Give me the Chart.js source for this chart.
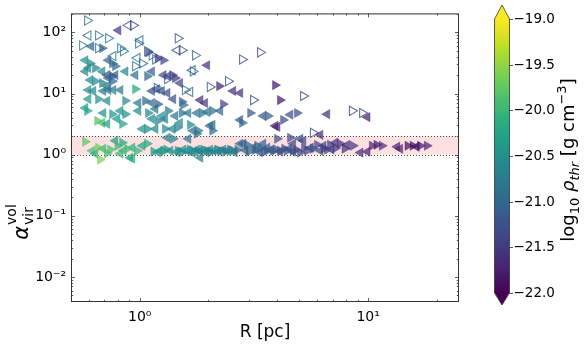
<!DOCTYPE html>
<html><head><meta charset="utf-8">
<script src="https://cdn.jsdelivr.net/npm/chart.js@4/dist/chart.umd.min.js"></script>
<style>html,body{margin:0;padding:0;background:#fff}#wrap{width:586px;height:346px;position:relative}</style>
</head><body><div id="wrap"><canvas id="c" width="586" height="346"></canvas></div>
<script>
// Each entry: [R (pc), alpha_vir^vol, log10 rho_thr]
const filledRight = [
[0.685,55,-21.0],[1.20,38,-21.5],[1.27,35,-21.4],[1.089,47,-21.3],[2.23,13.2,-21.7],[3.92,13.7,-21.8],[4.12,7.8,-21.8],
[1.39,20,-21.4],[1.43,17.9,-21.5],[0.607,31,-20.6],[0.638,26,-20.7],[0.758,31,-21.0],[0.781,28,-21.0],[0.758,19.2,-21.2],
[1.079,19.2,-21.0],[0.638,15.9,-20.6],[0.956,11.8,-20.2],[0.685,14.8,-20.7],[0.758,15.9,-21.0],[0.658,8.1,-20.5],
[0.865,7.6,-20.6],[1.057,7.6,-21.0],[1.20,6.7,-21.1],[1.53,7.3,-21.2],[0.589,5.2,-20.2],[0.758,4.6,-20.4],[0.865,4.6,-20.5],
[1.089,4.8,-20.6],[1.33,5.2,-20.8],[1.53,4.8,-20.9],[0.652,3.57,-19.8],[0.839,3.19,-20.3],[1.079,2.64,-20.5],[1.29,2.64,-20.6],
[1.46,2.75,-20.7],[1.20,3.57,-20.7],[1.55,6.5,-20.9],[1.88,4.8,-20.8],[2.08,5.2,-20.9],[2.32,6.7,-21.4],[3.05,4.8,-21.2],
[3.65,4.3,-21.1],[1.66,3.07,-20.6],[2.81,3.31,-21.0],[4.25,3.70,-21.3],[4.89,4.8,-21.3],[1.80,2.46,-20.9],[2.08,2.46,-21.0],
[0.577,1.63,-19.8],[0.658,1.30,-19.7],[0.743,1.21,-19.9],[0.671,0.83,-19.6],[0.839,1.57,-20.2],[0.882,1.25,-19.9],
[0.975,1.16,-20.0],[1.079,1.51,-20.2],[1.27,1.16,-20.4],[1.47,1.16,-20.5],[1.71,1.16,-20.6],[1.97,1.16,-20.6],[2.25,1.16,-20.7],
[2.56,1.16,-20.7],[1.40,1.82,-20.7],[1.78,2.20,-20.8],[2.95,1.45,-21.0],[3.37,1.25,-21.0],[3.83,1.16,-21.1],[4.41,1.16,-21.2],
[5.04,1.08,-21.3],[4.56,1.89,-21.3],[4.00,1.82,-21.2],[5.98,1.45,-21.4],[6.82,1.45,-21.5],[7.54,1.51,-21.6],[8.60,1.40,-21.5],
[10.4,1.40,-21.7],[10.9,1.45,-21.8],[11.5,1.40,-21.6],[14.9,1.40,-21.9],[15.7,1.40,-21.9],[16.9,1.40,-21.8],[18.1,1.40,-21.7],
[5.74,1.25,-21.2],[6.61,1.21,-21.3],[1.66,1.21,-20.5],[1.90,1.21,-20.6],[2.19,1.21,-20.6],[2.49,1.21,-20.7],[3.27,1.40,-21.0],
[3.61,1.16,-21.1],[4.12,1.16,-21.2],[4.69,1.16,-21.2],[5.41,1.16,-21.3],
[1.15,1.12,-20.4],[1.31,1.21,-20.5],[1.53,1.10,-20.6],[1.80,1.14,-20.7],[2.05,1.10,-20.7],[2.37,1.12,-20.8],[2.68,1.20,-20.9],
[3.00,1.12,-21.0],[3.20,1.20,-21.1],[3.50,1.12,-21.2],[3.95,1.22,-21.2],[4.30,1.25,-21.3],[4.85,1.20,-21.3],[5.25,1.28,-21.4],
[6.40,1.25,-21.5],[7.20,1.28,-21.5],[7.90,1.25,-21.6],[0.80,1.40,-20.0],[0.72,1.05,-19.9]
];
const filledLeft = [
[0.805,108,-21.5],[0.613,59,-21.0],[1.97,29,-21.6],[0.577,35,-20.5],[0.595,26,-20.5],[0.577,23,-20.6],[0.685,23,-20.6],
[0.728,35,-21.0],[0.720,20,-21.1],[0.781,20,-21.0],[0.865,23,-20.6],[0.956,20,-20.9],[1.13,23,-21.1],[1.27,20,-21.3],
[0.607,16.6,-20.6],[0.728,17.9,-21.0],[0.720,13.2,-20.8],[0.595,11.4,-20.5],[0.625,11.0,-20.6],[0.692,11.0,-20.7],
[0.728,11.4,-20.9],[0.765,11.4,-20.8],[0.822,11.4,-20.7],[1.13,11.0,-21.2],[1.19,11.8,-21.3],[1.25,11.0,-21.2],[1.32,10.2,-21.3],
[0.595,8.1,-20.4],[0.720,7.6,-20.6],[0.985,7.0,-20.8],[1.13,7.0,-21.0],[1.40,8.1,-21.3],[0.577,5.8,-20.3],[0.692,4.8,-20.5],
[0.822,5.2,-20.4],[0.985,5.2,-20.6],[1.17,5.6,-20.7],[1.25,4.3,-20.5],[1.43,4.3,-20.8],[0.685,3.31,-19.9],[0.720,3.19,-20.3],
[0.797,3.85,-20.4],[1.025,2.64,-20.5],[1.17,2.64,-20.6],[1.39,2.64,-20.6],[1.13,3.85,-20.6],[1.29,3.85,-20.7],[1.84,7.8,-21.6],
[1.93,7.0,-21.5],[2.56,11.0,-21.6],[2.75,10.2,-21.6],[1.50,14.8,-21.4],[1.33,19.2,-21.4],[1.63,4.8,-20.8],[1.78,4.8,-20.9],
[1.97,5.0,-20.8],[2.25,5.2,-21.0],[3.47,4.3,-21.2],[1.50,3.31,-20.6],[2.75,3.70,-21.1],[3.92,2.96,-21.7],[4.56,4.5,-21.3],
[6.61,4.6,-21.6],[9.92,4.1,-21.7],[1.71,2.46,-21.0],[6.17,2.11,-21.6],[2.08,3.07,-20.9],[4.00,2.85,-21.7],
[0.619,1.16,-19.9],[0.692,1.25,-20.0],[0.638,1.04,-20.1],[0.781,1.69,-20.3],[0.822,1.04,-20.0],[0.927,1.30,-20.1],
[1.025,1.40,-20.3],[0.909,0.89,-20.2],[1.23,1.16,-20.3],[1.36,1.16,-20.5],[1.61,1.16,-20.5],[1.84,1.16,-20.6],[2.10,1.16,-20.6],
[2.41,1.16,-20.7],[1.32,1.89,-20.7],[1.63,1.82,-20.8],[2.03,2.96,-20.9],[2.75,1.51,-21.0],[3.14,1.30,-21.1],[3.61,1.30,-21.1],
[4.12,1.12,-21.2],[4.69,1.12,-21.2],[5.04,1.82,-21.3],[4.69,1.51,-21.4],[6.37,1.40,-21.4],[7.18,1.57,-21.5],[8.10,1.45,-21.6],
[9.24,1.08,-21.6],[9.92,1.12,-21.7],[13.4,1.35,-21.7],[13.8,1.25,-21.7],[16.3,1.35,-21.9],[6.17,1.16,-21.3],[1.55,1.21,-20.5],
[1.78,1.21,-20.5],[2.03,1.21,-20.6],[2.32,1.21,-20.7],[2.84,1.51,-21.0],[3.47,1.51,-21.1],[5.20,1.69,-21.3],[1.84,0.89,-20.7],
[0.927,0.86,-20.1],
[1.20,1.10,-20.4],[1.45,1.12,-20.5],[1.70,1.08,-20.6],[1.95,1.12,-20.7],[2.22,1.14,-20.8],[2.60,1.10,-20.9],[2.90,1.18,-21.0],
[3.35,1.10,-21.1],[3.75,1.20,-21.2],[4.50,1.25,-21.3],[5.60,1.30,-21.4],[6.90,1.22,-21.5],[0.85,1.18,-20.0]
];
const openRight = [
[0.589,156,-21.0],[0.560,61,-20.9],[0.658,55,-21.0],[0.822,55,-21.1],[0.846,49,-21.0],[0.985,66,-21.1],[1.079,49,-21.2],
[1.13,42,-21.0],[0.956,28,-21.0],[1.025,31,-21.1],[1.47,80,-21.4],[1.75,42,-21.3],[2.81,36,-21.4],[3.37,47,-21.5],
[1.71,23,-21.2],[1.58,11.4,-21.1],[2.03,12.8,-21.3],[2.44,15.9,-21.4],[3.14,7.8,-21.5],[5.20,9.1,-21.5],[8.51,5.2,-21.6],
[9.43,4.8,-21.5],[5.74,2.28,-21.5],[0.658,89,-21.0],[0.728,80,-21.1],[1.17,36,-21.1],[1.32,17.2,-21.2],[1.19,12.3,-21.0],
[0.936,130,-21.5],[1.53,51,-21.4]
];
const openLeft = [
[0.595,89,-21.0],[0.891,130,-21.5],[1.005,74,-21.1],[1.46,51,-21.5],[1.70,24,-21.2],[1.66,10.6,-21.1],[0.765,41,-21.0],
[0.975,38,-21.1]
];
const xMajorTicks = [1, 10];
const xTickLabels = ['10⁰', '10¹'];
const yMajorTicks = [0.01, 0.1, 1, 10, 100];
const yTickLabels = ['10⁻²', '10⁻¹', '10⁰', '10¹', '10²'];
const cbTicks = [-19.0, -19.5, -20.0, -20.5, -21.0, -21.5, -22.0];
const cbTickLabels = ['−19.0', '−19.5', '−20.0', '−20.5', '−21.0', '−21.5', '−22.0'];
const cMin = -22, cMax = -19;
const bandLow = 1, bandHigh = 2;

const VIR = ['#440154','#482475','#414487','#355f8d','#2a788e','#21918c','#22a884','#44bf70','#7ad151','#bddf26','#fde725'];
function hx(h){return [parseInt(h.slice(1,3),16),parseInt(h.slice(3,5),16),parseInt(h.slice(5,7),16)];}
function vir(v,a){
  let t=(v-cMin)/(cMax-cMin); t=Math.max(0,Math.min(1,t));
  const f=t*10, i=Math.min(9,Math.floor(f)), u=f-i;
  const c0=hx(VIR[i]), c1=hx(VIR[i+1]);
  const c=c0.map((q,k)=>Math.round(q+(c1[k]-q)*u));
  return `rgba(${c[0]},${c[1]},${c[2]},${a})`;
}
function mkFilled(arr,rot){
  return {data:arr.map(d=>({x:d[0],y:d[1]})),pointStyle:'triangle',pointRotation:rot,pointRadius:5.3,
    pointBackgroundColor:arr.map(d=>vir(d[2],0.72)),pointBorderColor:arr.map(d=>vir(d[2],0.72)),pointBorderWidth:0.6};
}
function mkOpen(arr,rot){
  return {data:arr.map(d=>({x:d[0],y:d[1]})),pointStyle:'triangle',pointRotation:rot,pointRadius:5.3,
    pointBackgroundColor:'rgba(0,0,0,0)',pointBorderColor:arr.map(d=>vir(d[2]+0.2,0.8)),pointBorderWidth:1.1};
}
const FONT='"DejaVu Sans", sans-serif';
const deco = {
  id:'deco',
  beforeDatasetsDraw(chart){
    const {ctx,chartArea:a,scales:{y}}=chart;
    const y1=y.getPixelForValue(bandLow), y2=y.getPixelForValue(bandHigh);
    ctx.save();
    ctx.fillStyle='rgba(255,224,224,1)';
    ctx.fillRect(a.left,y2,a.right-a.left,y1-y2);
    ctx.strokeStyle='#444'; ctx.lineWidth=1; ctx.setLineDash([1,2]);
    [y1,y2].forEach(p=>{ctx.beginPath();ctx.moveTo(a.left,Math.round(p)+0.5);ctx.lineTo(a.right,Math.round(p)+0.5);ctx.stroke();});
    ctx.restore();
  },
  afterDraw(chart){
    const {ctx,chartArea:a,scales:{x,y}}=chart;
    ctx.save();
    ctx.strokeStyle='#333'; ctx.lineWidth=1;
    ctx.strokeRect(a.left+0.5,a.top+0.5,a.right-a.left-1,a.bottom-a.top-1);
    const tick=(vals,len,isX)=>{
      vals.forEach(v=>{
        if(isX){const p=Math.round(x.getPixelForValue(v))+0.5; if(p<a.left+1||p>a.right-1)return;
          ctx.beginPath();ctx.moveTo(p,a.bottom);ctx.lineTo(p,a.bottom-len);ctx.moveTo(p,a.top);ctx.lineTo(p,a.top+len);ctx.stroke();}
        else{const p=Math.round(y.getPixelForValue(v))+0.5; if(p<a.top+1||p>a.bottom-1)return;
          ctx.beginPath();ctx.moveTo(a.left,p);ctx.lineTo(a.left+len,p);ctx.moveTo(a.right,p);ctx.lineTo(a.right-len,p);ctx.stroke();}
      });
    };
    const minors=(lo,hi)=>{const r=[];for(let e=lo;e<=hi;e++)for(let m=2;m<=9;m++)r.push(m*Math.pow(10,e));return r;};
    ctx.lineWidth=0.8;
    tick(xMajorTicks,4,true); tick(minors(-1,1),2.2,true);
    tick(yMajorTicks,4,false); tick(minors(-3,2),2.2,false);
    // y title
    ctx.fillStyle='#000';
    ctx.translate(21,222); ctx.rotate(-Math.PI/2);
    ctx.textBaseline='alphabetic';
    ctx.font='italic 21px '+FONT; const wa=ctx.measureText('α').width;
    ctx.font='14px '+FONT; const ws=Math.max(ctx.measureText('vir').width,ctx.measureText('vol').width);
    const x0=-(wa+ws+1)/2;
    ctx.font='italic 21px '+FONT; ctx.fillText('α',x0,7);
    ctx.font='14px '+FONT; ctx.fillText('vir',x0+wa+1,12); ctx.fillText('vol',x0+wa+1,-5);
    ctx.restore();
    // colorbar
    const L=494.5,R=509.5,T=19,B=293,TT=5,TB=305,C=(L+R)/2;
    ctx.save();
    const g=ctx.createLinearGradient(0,B,0,T);
    VIR.forEach((c,i)=>g.addColorStop(i/10,c));
    ctx.fillStyle=g; ctx.fillRect(L,T,R-L,B-T);
    ctx.fillStyle=VIR[10]; ctx.beginPath();ctx.moveTo(L,T+0.5);ctx.lineTo(C,TT);ctx.lineTo(R,T+0.5);ctx.closePath();ctx.fill();
    ctx.fillStyle=VIR[0]; ctx.beginPath();ctx.moveTo(L,B-0.5);ctx.lineTo(C,TB);ctx.lineTo(R,B-0.5);ctx.closePath();ctx.fill();
    ctx.strokeStyle='#333'; ctx.lineWidth=0.8;
    ctx.beginPath();ctx.moveTo(L,T);ctx.lineTo(C,TT);ctx.lineTo(R,T);ctx.lineTo(R,B);ctx.lineTo(C,TB);ctx.lineTo(L,B);ctx.closePath();ctx.stroke();
    ctx.fillStyle='#000'; ctx.font='13.5px '+FONT; ctx.textBaseline='middle'; ctx.textAlign='left';
    cbTicks.forEach((v,i)=>{const p=B-(v-cMin)/(cMax-cMin)*(B-T);
      ctx.beginPath();ctx.moveTo(R,Math.round(p)+0.5);ctx.lineTo(R+3.5,Math.round(p)+0.5);ctx.stroke();
      ctx.fillText(cbTickLabels[i],R+4,p+0.5);});
    ctx.translate(568,160); ctx.rotate(-Math.PI/2); ctx.textBaseline='alphabetic';
    const parts=[['log','18px',0],['10','13px',5],[' ','18px',0],['ρ','italic 18px',0],['thr','italic 13px',5],[' [g cm','18px',0],['−3','13px',-8],[']','18px',0]];
    let tw=0; parts.forEach(p=>{ctx.font=p[1]+' '+FONT; p.push(ctx.measureText(p[0]).width); tw+=p[3];});
    let cx=-tw/2; parts.forEach(p=>{ctx.font=p[1]+' '+FONT; ctx.fillText(p[0],cx,6+p[2]); cx+=p[3];});
    ctx.restore();
  }
};
new Chart(document.getElementById('c'),{
  type:'scatter',
  data:{datasets:[mkFilled(filledRight,90),mkFilled(filledLeft,-90),mkOpen(openRight,90),mkOpen(openLeft,-90)]},
  options:{
    responsive:false,animation:false,devicePixelRatio:1,
    layout:{padding:{left:0,top:12,right:127,bottom:0}},
    plugins:{legend:{display:false},tooltip:{enabled:false}},
    scales:{
      x:{type:'logarithmic',min:0.5,max:25,
        grid:{display:false,drawTicks:false},border:{display:false},
        afterBuildTicks:s=>{s.ticks=xMajorTicks.map(v=>({value:v}));},
        afterFit:s=>{s.height=44;},
        ticks:{autoSkip:false,maxRotation:0,padding:7,color:'#000',font:{family:FONT,size:14},
          callback:(v)=>{const i=xMajorTicks.indexOf(v);return i>=0?xTickLabels[i]:'';}},
        title:{display:true,text:'R [pc]',color:'#000',font:{family:FONT,size:17},padding:{top:0,bottom:3}}},
      y:{type:'logarithmic',min:0.0039,max:204,
        grid:{display:false,drawTicks:false},border:{display:false},
        afterBuildTicks:s=>{s.ticks=yMajorTicks.map(v=>({value:v}));},
        afterFit:s=>{s.width=71;},
        ticks:{autoSkip:false,padding:5,color:'#000',font:{family:FONT,size:14},
          callback:(v)=>{const i=yMajorTicks.indexOf(v);return i>=0?yTickLabels[i]:'';}}}
    }
  },
  plugins:[deco]
});
</script></body></html>
